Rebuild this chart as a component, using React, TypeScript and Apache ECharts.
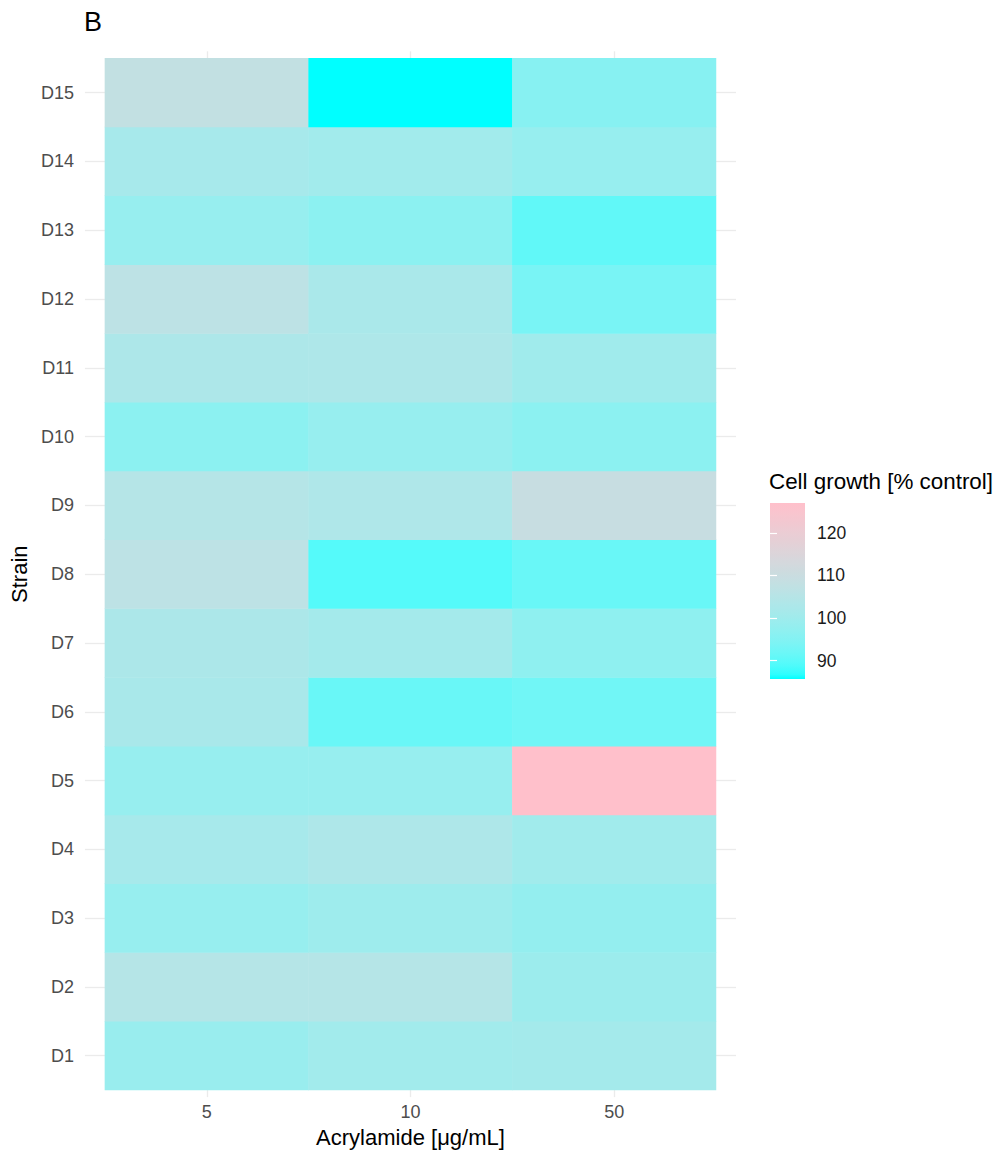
import React, { useEffect, useRef } from "react";
import * as echarts from "echarts";

// Strains (bottom to top) and acrylamide concentrations (µg/mL)
const strains = ["D1", "D2", "D3", "D4", "D5", "D6", "D7", "D8", "D9", "D10", "D11", "D12", "D13", "D14", "D15"];
const concentrations = ["5", "10", "50"];

// Cell growth [% control] per strain, D1..D15, one array per concentration
const growthAt5 = [99.0, 104.8, 98.5, 101.5, 98.5, 102.0, 102.8, 106.5, 104.8, 96.5, 103.0, 106.5, 98.5, 101.5, 108.0];
const growthAt10 = [100.6, 104.8, 99.8, 103.2, 98.5, 91.5, 101.0, 89.5, 103.5, 98.5, 103.2, 102.3, 96.5, 100.6, 85.7];
const growthAt50 = [101.0, 99.5, 98.0, 100.3, 127.0, 92.6, 97.0, 91.5, 109.3, 96.5, 100.2, 93.6, 90.7, 98.6, 95.7];

// Colour bar ticks and limits
const legendTicks = [90, 100, 110, 120];
const scaleMin = 85.7;
const scaleMax = 127.0;

const LOW_COLOR = "#00FFFF";
const HIGH_COLOR = "#FFC0CB";
const FONT = "'Liberation Sans', Arial, Helvetica, sans-serif";

// ---- CIELAB interpolation (the gradient blends through Lab, not RGB) ----
type Lab = [number, number, number];

function hexToRgb(hex: string): [number, number, number] {
  const h = hex.replace("#", "");
  return [parseInt(h.slice(0, 2), 16), parseInt(h.slice(2, 4), 16), parseInt(h.slice(4, 6), 16)];
}

function toLinear(c: number) {
  const v = c / 255;
  return v <= 0.04045 ? v / 12.92 : Math.pow((v + 0.055) / 1.055, 2.4);
}

function fromLinear(v: number) {
  const c = v <= 0.0031308 ? 12.92 * v : 1.055 * Math.pow(v, 1 / 2.4) - 0.055;
  return Math.max(0, Math.min(255, Math.round(c * 255)));
}

const WX = 0.95047, WY = 1.0, WZ = 1.08883;

function rgbToLab(hex: string): Lab {
  const [r8, g8, b8] = hexToRgb(hex);
  const r = toLinear(r8), g = toLinear(g8), b = toLinear(b8);
  const x = (0.4124 * r + 0.3576 * g + 0.1805 * b) / WX;
  const y = (0.2126 * r + 0.7152 * g + 0.0722 * b) / WY;
  const z = (0.0193 * r + 0.1192 * g + 0.9505 * b) / WZ;
  const f = (t: number) => (t > 216 / 24389 ? Math.cbrt(t) : (24389 / 27 * t + 16) / 116);
  const fx = f(x), fy = f(y), fz = f(z);
  return [116 * fy - 16, 500 * (fx - fy), 200 * (fy - fz)];
}

function labToHex(lab: Lab): string {
  const [L, a, bb] = lab;
  const fy = (L + 16) / 116;
  const fx = fy + a / 500;
  const fz = fy - bb / 200;
  const inv = (t: number) => (t * t * t > 216 / 24389 ? t * t * t : (116 * t - 16) / (24389 / 27));
  const x = inv(fx) * WX, y = inv(fy) * WY, z = inv(fz) * WZ;
  const r = 3.2406 * x - 1.5372 * y - 0.4986 * z;
  const g = -0.9689 * x + 1.8758 * y + 0.0415 * z;
  const b = 0.0557 * x - 0.204 * y + 1.057 * z;
  const hx = (n: number) => fromLinear(n).toString(16).padStart(2, "0");
  return "#" + hx(r) + hx(g) + hx(b);
}

function labRamp(low: string, high: string, steps: number): string[] {
  const a = rgbToLab(low), b = rgbToLab(high);
  const out: string[] = [];
  for (let i = 0; i < steps; i++) {
    const t = i / (steps - 1);
    out.push(labToHex([a[0] + (b[0] - a[0]) * t, a[1] + (b[1] - a[1]) * t, a[2] + (b[2] - a[2]) * t]));
  }
  return out;
}

const ramp = labRamp(LOW_COLOR, HIGH_COLOR, 41);

export default function App() {
  const ref = useRef<HTMLDivElement>(null);

  useEffect(() => {
    if (!ref.current) return;
    const chart = echarts.init(ref.current, null, { renderer: "svg" });

    const columns = [growthAt5, growthAt10, growthAt50];
    const cells: [number, number, number][] = [];
    columns.forEach((col, xi) => {
      col.forEach((v, yi) => cells.push([xi, yi, v]));
    });

    // Gradient from top (high) to bottom (low) for the colour bar
    const barStops = ramp
      .map((c, i) => ({ offset: 1 - i / (ramp.length - 1), color: c }))
      .reverse();

    const gridLine = { color: "#ebebeb", width: 1.3 };
    const whiteTick = { color: "#ffffff", width: 1.2 };

    chart.setOption({
      animation: false,
      backgroundColor: "#ffffff",
      textStyle: { fontFamily: FONT },
      title: [
        {
          text: "B",
          left: 84,
          top: 8,
          padding: 0,
          textStyle: { fontSize: 27, fontWeight: "normal", color: "#000", fontFamily: FONT },
        },
        {
          text: "Cell growth [% control]",
          left: 769,
          top: 470,
          padding: 0,
          textStyle: { fontSize: 22.4, fontWeight: "normal", color: "#000", fontFamily: FONT },
        },
      ],
      grid: [
        { left: 104.5, top: 58.3, width: 611.5, height: 1035.7 },
        { left: 770, top: 503, width: 35, height: 176 },
      ],
      xAxis: [
        {
          type: "category",
          gridIndex: 0,
          position: "bottom",
          data: concentrations,
          axisLine: { show: false },
          axisTick: { show: true, alignWithLabel: true, length: 7, lineStyle: gridLine },
          axisLabel: { margin: 13, fontSize: 18, color: "#4d4d4d", fontFamily: FONT },
          splitLine: { show: false },
          name: "Acrylamide [μg/mL]",
          nameLocation: "middle",
          nameGap: 35,
          nameTextStyle: { fontSize: 22, color: "#000", fontFamily: FONT },
        },
        {
          type: "category",
          gridIndex: 0,
          position: "top",
          data: concentrations,
          axisLine: { show: false },
          axisTick: { show: true, alignWithLabel: true, length: 7, lineStyle: gridLine },
          axisLabel: { show: false },
          splitLine: { show: false },
        },
        { type: "value", gridIndex: 1, min: 0, max: 1, show: false },
      ],
      yAxis: [
        {
          type: "category",
          gridIndex: 0,
          position: "left",
          data: strains,
          axisLine: { show: false },
          axisTick: { show: true, alignWithLabel: true, length: 20, lineStyle: gridLine },
          axisLabel: { margin: 31, fontSize: 18, color: "#4d4d4d", fontFamily: FONT },
          splitLine: { show: false },
          name: "Strain",
          nameLocation: "middle",
          nameGap: 73,
          nameRotate: 90,
          nameTextStyle: { fontSize: 22, color: "#000", fontFamily: FONT },
        },
        {
          type: "category",
          gridIndex: 0,
          position: "right",
          data: strains,
          axisLine: { show: false },
          axisTick: { show: true, alignWithLabel: true, length: 20, lineStyle: gridLine },
          axisLabel: { show: false },
          splitLine: { show: false },
        },
        {
          type: "value",
          gridIndex: 1,
          position: "right",
          min: scaleMin,
          max: scaleMax,
          z: 10,
          axisLine: { show: false },
          splitLine: { show: false },
          axisTick: { show: true, inside: true, length: 7, customValues: legendTicks, lineStyle: whiteTick },
          axisLabel: {
            show: true,
            margin: 12,
            fontSize: 17.5,
            color: "#1a1a1a",
            fontFamily: FONT,
            customValues: legendTicks,
          },
        },
        {
          type: "value",
          gridIndex: 1,
          position: "left",
          min: scaleMin,
          max: scaleMax,
          z: 10,
          axisLine: { show: false },
          splitLine: { show: false },
          axisLabel: { show: false },
          axisTick: { show: true, inside: true, length: 7, customValues: legendTicks, lineStyle: whiteTick },
        },
      ],
      visualMap: {
        type: "continuous",
        show: false,
        seriesIndex: 0,
        dimension: 2,
        min: scaleMin,
        max: scaleMax,
        inRange: { color: ramp },
      },
      series: [
        {
          type: "heatmap",
          xAxisIndex: 0,
          yAxisIndex: 0,
          data: cells,
          itemStyle: { borderWidth: 0 },
          emphasis: { disabled: true },
        },
        {
          type: "custom",
          xAxisIndex: 2,
          yAxisIndex: 2,
          silent: true,
          data: [[0, 1, scaleMin, scaleMax]],
          renderItem: (_params: any, api: any) => {
            const topLeft = api.coord([api.value(0), api.value(3)]);
            const bottomRight = api.coord([api.value(1), api.value(2)]);
            return {
              type: "rect",
              shape: {
                x: topLeft[0],
                y: topLeft[1],
                width: bottomRight[0] - topLeft[0],
                height: bottomRight[1] - topLeft[1],
              },
              style: { fill: new echarts.graphic.LinearGradient(0, 0, 0, 1, barStops) },
            };
          },
        },
      ],
    });

    return () => chart.dispose();
  }, []);

  return (
    <div
      ref={ref}
      style={{ position: "absolute", left: 0, top: 0, width: 996, height: 1153, background: "#fff" }}
    />
  );
}
